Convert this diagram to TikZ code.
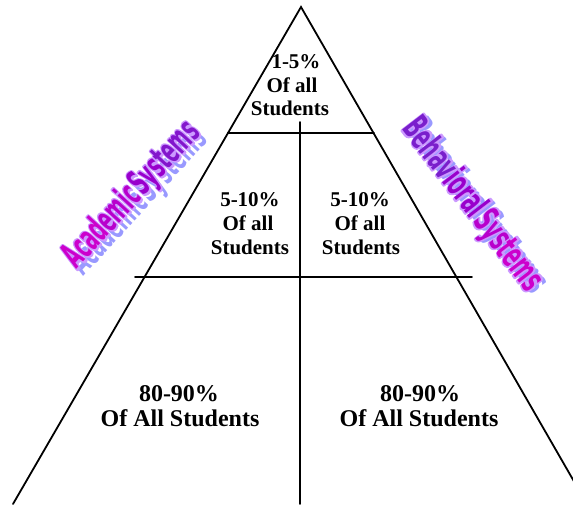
\documentclass[tikz,border=0pt]{standalone}
\usepackage{fontspec}
\setmainfont{Liberation Serif}
\newfontfamily\wafont{DejaVu Sans}
\definecolor{washadow}{HTML}{9999FF}
\definecolor{waedge}{HTML}{CC99FF}
\definecolor{wamag}{HTML}{CC00CC}
\definecolor{wamagb}{HTML}{B800CC}
\definecolor{wapur}{HTML}{9900CC}
\definecolor{wavio}{HTML}{7A1FCC}
\newcommand\wastroke{\special{pdf:literal 0.8 0.6 1 RG 1 Tr 4 w 1 j}}
\newcommand\wafill{\special{pdf:literal 0 Tr}}
\begin{document}
\begin{tikzpicture}[x=1pt,y=-1pt,
  edge/.style={line width=1.8pt, line cap=round},
  lbl/.style={font=\bfseries\fontsize{21}{24}\selectfont, anchor=base, inner sep=0pt},
  biglbl/.style={font=\bfseries\fontsize{24}{27}\selectfont, anchor=base, inner sep=0pt},
  wa/.style={font=\wafont\bfseries\fontsize{36}{38}\selectfont, inner sep=0pt}]
\useasboundingbox (0,0) rectangle (573,504);
\clip (0,0) rectangle (573,504);
% pyramid
\coordinate (apex) at (301,7);
\coordinate (bl) at (13,504);
\coordinate (br) at (587,504);
\coordinate (vt) at (300,122);
\coordinate (vb) at (300,504);
\coordinate (h1l) at (228,133);
\coordinate (h1r) at (374,133);
\coordinate (h2l) at (135,277);
\coordinate (h2r) at (472,277);
\draw[edge] (bl) -- (apex) -- (br);
\draw[edge] (vt) -- (vb);
\draw[edge] (h1l) -- (h1r);
\draw[edge] (h2l) -- (h2r);
% labels
\node[lbl] (t1) at (296,68) {1-5\%};
\node[lbl] (t2) at (292,92) {Of all};
\node[lbl] (t3) at (290,115) {Students};
\node[lbl] (ml1) at (250,206) {5-10\%};
\node[lbl] (ml2) at (248,230) {Of all};
\node[lbl] (ml3) at (250,254) {Students};
\node[lbl] (mr1) at (360,206) {5-10\%};
\node[lbl] (mr2) at (360,230) {Of all};
\node[lbl] (mr3) at (361,254) {Students};
\node[biglbl] (bl1) at (179,401) {80-90\%};
\node[biglbl] (bl2) at (180,426) {Of All Students};
\node[biglbl] (br1) at (420,401) {80-90\%};
\node[biglbl] (br2) at (419,426) {Of All Students};
% word art: Academic Systems
\node[wa, rotate=47.5, text=washadow] (acads) at (139,202) {\scalebox{0.5}[1]{Academic\hspace{0.1em}Systems}};
\node[wa, rotate=47.5, text=waedge] (acado) at (132,195) {\scalebox{0.5}[1]{\wastroke Academic\hspace{0.1em}Systems\wafill}};
\node[wa, rotate=47.5] (acad) at (132,195) {\scalebox{0.5}[1]{{\color{wamag}Acad}{\color{wamagb}emic}\hspace{0.1em}{\color{wapur}Sys}{\color{wavio!70!wapur}tems}}};
% word art: Behavioral Systems
\node[wa, rotate=-52.5, text=washadow] (behs) at (477,207) {\scalebox{0.53}[1]{Behavioral\hspace{0.1em}Systems}};
\node[wa, rotate=-52.5, text=waedge] (beho) at (472,205) {\scalebox{0.53}[1]{\wastroke Behavioral\hspace{0.1em}Systems\wafill}};
\node[wa, rotate=-52.5] (behav) at (472,205) {\scalebox{0.53}[1]{{\color{wavio}Behav}{\color{wapur}ioral}\hspace{0.1em}{\color{wamagb}Sys}{\color{wamag}tems}}};
\end{tikzpicture}
\end{document}
